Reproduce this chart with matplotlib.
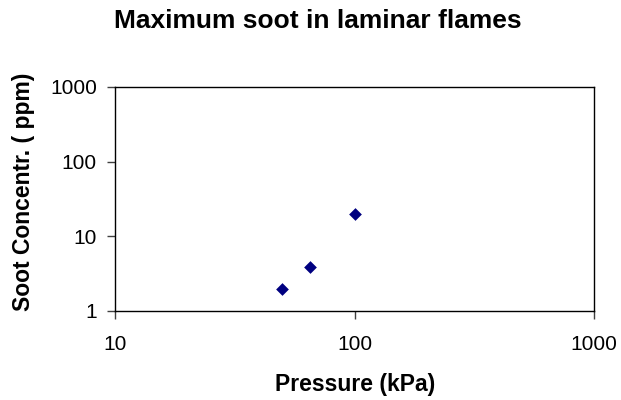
import matplotlib
matplotlib.use("Agg")
import matplotlib.pyplot as plt
from matplotlib.ticker import FixedLocator, FixedFormatter, NullLocator

pressure_kpa = [50, 65, 100]
soot_ppm = [2.0, 3.85, 20.0]
x_ticks = [10, 100, 1000]
x_tick_labels = ["10", "100", "1000"]
y_ticks = [1, 10, 100, 1000]
y_tick_labels = ["1", "10", "100", "1000"]

plt.rcParams['font.family'] = ['Liberation Sans', 'DejaVu Sans']

fig = plt.figure(figsize=(6.21, 4.0), dpi=100)
ax = fig.add_axes([115/621, 1-311/400, (594-115)/621, (311-87)/400])

ax.scatter(pressure_kpa, soot_ppm, marker='D', s=42, color='#000080', zorder=3, linewidths=0)
ax.set_xscale('log')
ax.set_yscale('log')
ax.set_xlim(10, 1000)
ax.set_ylim(1, 1000)
ax.xaxis.set_major_locator(FixedLocator(x_ticks))
ax.xaxis.set_major_formatter(FixedFormatter(x_tick_labels))
ax.yaxis.set_major_locator(FixedLocator(y_ticks))
ax.yaxis.set_major_formatter(FixedFormatter(y_tick_labels))
ax.xaxis.set_minor_locator(NullLocator())
ax.yaxis.set_minor_locator(NullLocator())
ax.tick_params(axis='both', direction='out', length=6, width=1, color='#404040', labelsize=15)
ax.tick_params(axis='x', pad=11)
ax.tick_params(axis='y', pad=7)
for s in ax.spines.values():
    s.set_color('#000000')
    s.set_linewidth(1)

fig.text(355/621, 1-385/400, "Pressure (kPa)", ha='center', va='center', fontsize=16.5, fontweight='bold')
fig.text(24/621, 1-192/400, "Soot Concentr. ( ppm)", ha='center', va='center', rotation=90, fontsize=16.5, fontweight='bold')
fig.text(318/621, 1-21/400, "Maximum soot in laminar flames", ha='center', va='center', fontsize=19, fontweight='bold')

fig.savefig("out.png", dpi=100, facecolor='white')
